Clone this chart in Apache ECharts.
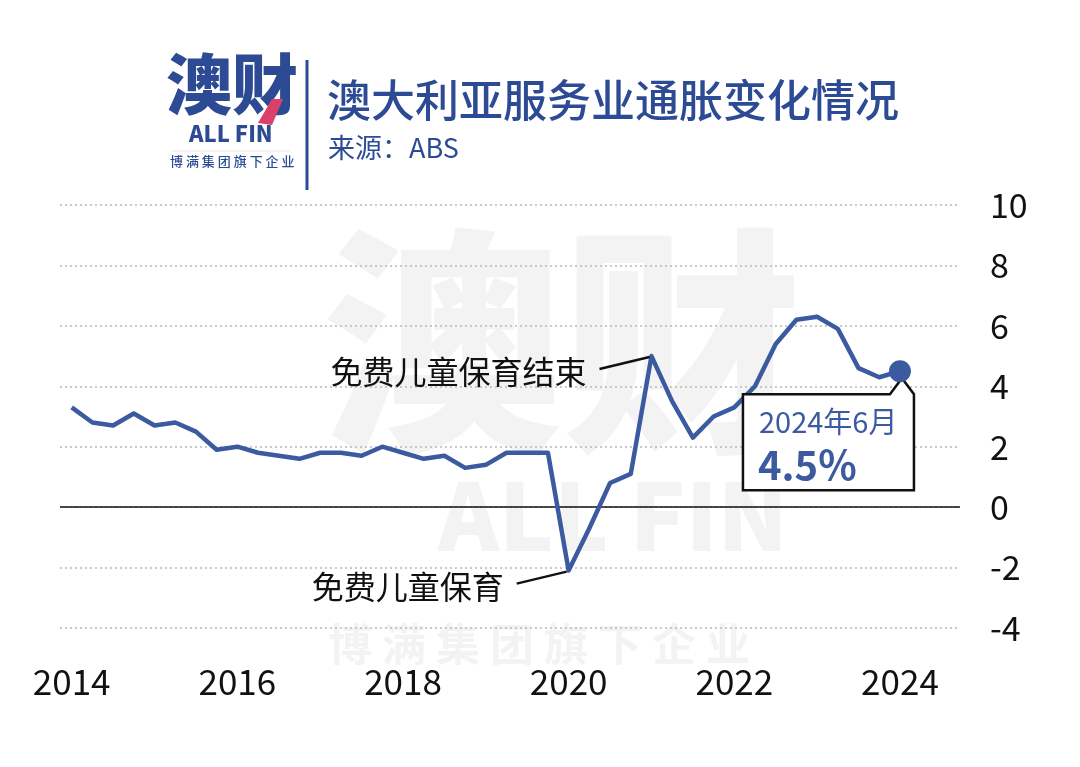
<!DOCTYPE html>
<html>
<head>
<meta charset="utf-8">
<script src="https://cdn.jsdelivr.net/npm/echarts@6/dist/echarts.min.js"></script>
<style>
html,body{margin:0;padding:0;background:#fff;}
#chart{width:1080px;height:767px;}
</style>
</head>
<body>
<div id="chart"></div>
<script>
// Quarterly (June 2014 – June 2024)
const quarters = [
  '2014-06','2014-09','2014-12','2015-03','2015-06','2015-09','2015-12','2016-03',
  '2016-06','2016-09','2016-12','2017-03','2017-06','2017-09','2017-12','2018-03',
  '2018-06','2018-09','2018-12','2019-03','2019-06','2019-09','2019-12','2020-03',
  '2020-06','2020-09','2020-12','2021-03','2021-06','2021-09','2021-12','2022-03',
  '2022-06','2022-09','2022-12','2023-03','2023-06','2023-09','2023-12','2024-03',
  '2024-06'
];
const servicesInflation = [
  3.3, 2.8, 2.7, 3.1, 2.7, 2.8, 2.5, 1.9,
  2.0, 1.8, 1.7, 1.6, 1.8, 1.8, 1.7, 2.0,
  1.8, 1.6, 1.7, 1.3, 1.4, 1.8, 1.8, 1.8,
  -2.1, -0.7, 0.8, 1.1, 5.0, 3.5, 2.3, 3.0,
  3.3, 4.0, 5.4, 6.2, 6.3, 5.9, 4.6, 4.3,
  4.5
];
const xTickIndex = [0, 8, 16, 24, 32, 40];
const yTicks = [-4, -2, 0, 2, 4, 6, 8, 10];
const annotations = [
  { index: 24, text: '免费儿童保育' },
  { index: 28, text: '免费儿童保育结束' }
];
const calloutLabel = '2024年6月';
const calloutValue = '4.5%';
const titleText = '澳大利亚服务业通胀变化情况';
const sourceText = '来源：ABS';

const BLUE = '#3b5aa0';
const DARK_BLUE = '#2d4b95';
const FONT = '"Noto Sans CJK SC", "Noto Sans", sans-serif';

const chart = echarts.init(document.getElementById('chart'), null, {renderer: 'canvas'});
const lastIdx = servicesInflation.length - 1;

const option = {
  backgroundColor: '#ffffff',
  animation: false,
  textStyle: { fontFamily: FONT },
  grid: { left: 60, right: 120, top: 205, bottom: 139, containLabel: false },
  xAxis: {
    type: 'value',
    min: -0.565,
    max: 42.9,
    axisLine: { show: false },
    axisTick: { show: false },
    splitLine: { show: false },
    axisLabel: {
      customValues: xTickIndex,
      formatter: v => quarters[Math.round(v)].slice(0, 4),
      color: '#111',
      fontSize: 35,
      fontFamily: FONT,
      margin: 36
    }
  },
  yAxis: {
    type: 'value',
    position: 'right',
    min: yTicks[0],
    max: yTicks[yTicks.length - 1],
    interval: 2,
    axisLine: { show: false },
    axisTick: { show: false },
    axisLabel: {
      color: '#111',
      fontSize: 34,
      fontFamily: FONT,
      margin: 30,
      align: 'left'
    },
    splitLine: { lineStyle: { type: [2, 3], color: '#b8b8b8', width: 1.5 } }
  },
  series: [
    {
      type: 'line',
      data: servicesInflation.map((v, i) => [i, v]),
      showSymbol: false,
      symbol: 'none',
      lineStyle: { color: BLUE, width: 4.5, join: 'round' },
      z: 5,
      markLine: {
        silent: true,
        symbol: 'none',
        label: { show: false },
        lineStyle: { color: '#111', width: 1.5, type: 'solid' },
        data: [{ yAxis: 0 }],
        z: 3
      }
    },
    {
      type: 'scatter',
      data: [[lastIdx, servicesInflation[lastIdx]]],
      symbolSize: 22,
      itemStyle: { color: BLUE, opacity: 1 },
      z: 8
    }
  ]
};
chart.setOption(option);

function buildGraphics() {
  const g = [];
  // Watermark
  g.push({ type: 'text', z: -10, left: 322, top: 222,
    style: { text: '澳财', font: '900 240px ' + FONT, fill: '#f3f3f3' } });
  g.push({ type: 'text', z: -10, left: 438, top: 470,
    style: { text: 'ALL FIN', font: '900 92px ' + FONT, fill: '#f3f3f3' } });
  g.push({ type: 'text', z: -10, left: 328, top: 622,
    style: { text: '博 满 集 团 旗 下 企 业', font: '700 44px ' + FONT, fill: '#f3f3f3' } });

  // Logo
  g.push({ type: 'text', left: 166, top: 51,
    style: { text: '澳财', font: '900 66px ' + FONT, fill: DARK_BLUE } });
  g.push({ type: 'polygon', shape: { points: [[258, 123], [272, 99], [283, 99], [272, 125]] },
    style: { fill: '#d9416a' } });
  g.push({ type: 'text', left: 189, top: 123,
    style: { text: 'ALL FIN', font: '800 22px ' + FONT, fill: DARK_BLUE } });
  g.push({ type: 'line', shape: { x1: 172, y1: 151, x2: 290, y2: 151 },
    style: { stroke: '#e6e6e6', lineWidth: 1 } });
  g.push({ type: 'text', left: 170, top: 155,
    style: { text: '博 满 集 团 旗 下 企 业', font: '500 13px ' + FONT, fill: DARK_BLUE } });
  g.push({ type: 'line', shape: { x1: 307, y1: 60, x2: 307, y2: 190 },
    style: { stroke: DARK_BLUE, lineWidth: 3 } });

  // Title
  g.push({ type: 'text', left: 327, top: 78,
    style: { text: titleText, font: '500 44px ' + FONT, fill: DARK_BLUE } });
  g.push({ type: 'text', left: 328, top: 134,
    style: { text: sourceText, font: '400 27px ' + FONT, fill: DARK_BLUE } });

  // Annotations anchored to data points
  annotations.forEach(a => {
    const p = chart.convertToPixel({ seriesIndex: 0 }, [a.index, servicesInflation[a.index]]);
    g.push({ type: 'line', z: 10,
      shape: { x1: p[0] - 52, y1: p[1] + 13, x2: p[0] - 2, y2: p[1] + 1 },
      style: { stroke: '#111', lineWidth: 2.5 } });
    g.push({ type: 'text', z: 10,
      x: p[0] - 65, y: p[1] + 16,
      style: { text: a.text, font: '400 32px ' + FONT, fill: '#111',
        align: 'right', verticalAlign: 'middle' } });
  });

  // Callout for latest value
  const d = chart.convertToPixel({ seriesIndex: 1 }, [lastIdx, servicesInflation[lastIdx]]);
  const px = d[0], py = d[1];
  const top = py + 23, bottom = py + 119, left = px - 157, right = px + 14;
  g.push({ type: 'polygon', z: 6,
    shape: { points: [[left, top], [px - 10, top], [px + 2, py + 7], [right, top], [right, bottom], [left, bottom]] },
    style: { fill: '#fff', stroke: '#111', lineWidth: 2.5 } });
  g.push({ type: 'text', z: 7, x: px - 141, y: py + 51,
    style: { text: calloutLabel, font: '400 29px ' + FONT, fill: BLUE, verticalAlign: 'middle' } });
  g.push({ type: 'text', z: 7, x: px - 142, y: py + 94,
    style: { text: calloutValue, font: '700 40px ' + FONT, fill: BLUE, verticalAlign: 'middle' } });
  return g;
}
chart.setOption({ graphic: buildGraphics() });
</script>
</body>
</html>
